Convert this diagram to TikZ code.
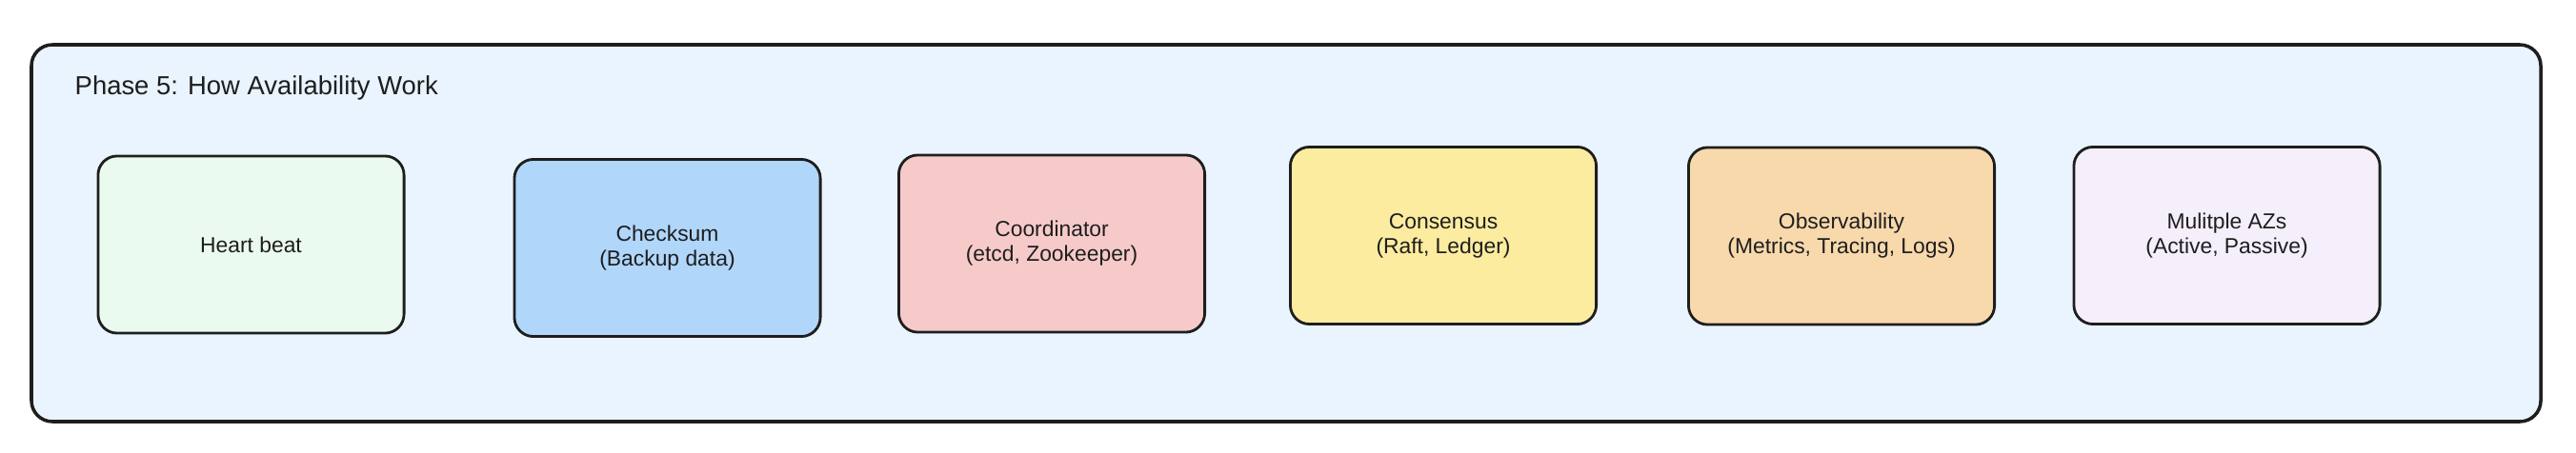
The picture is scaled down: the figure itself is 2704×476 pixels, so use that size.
\documentclass[tikz,border=0pt]{standalone}
\usepackage{fontspec}
\setmainfont{Liberation Sans}
\definecolor{ink}{HTML}{1E1E1E}
\definecolor{framebg}{HTML}{EAF4FE}
\definecolor{cgreen}{HTML}{EBFAEE}
\definecolor{cblue}{HTML}{B0D6FA}
\definecolor{cred}{HTML}{F7CACA}
\definecolor{cyellow}{HTML}{FCEC9F}
\definecolor{corange}{HTML}{F8D9AC}
\definecolor{cviolet}{HTML}{F5EEFB}
\begin{document}
\begin{tikzpicture}[x=0.01cm,y=-0.01cm,
  card/.style={draw=ink, line width=0.8pt, rounded corners=0.2cm,
    minimum width=3.21cm, minimum height=1.86cm, inner sep=0pt,
    align=center, text=ink, font=\fontsize{6.5}{7.4}\selectfont},
  framebox/.style={draw=ink, line width=1.0pt, rounded corners=0.22cm, fill=framebg},
  titletext/.style={text=ink, font=\fontsize{7.8}{9}\selectfont, inner sep=0pt}
]
\useasboundingbox (0,0) rectangle (2704,476);
\draw[framebox] (33,47) rectangle (2667,443);
\node[titletext, anchor=base west] (title) at (78,100) {Phase 5: How Availability Work};
\node[card, fill=cgreen]  (hb)  at (263.5,257)   {Heart beat};
\node[card, fill=cblue]   (cs)  at (700.5,260.5) {Checksum\\(Backup data)};
\node[card, fill=cred]    (co)  at (1104,256)    {Coordinator\\(etcd, Zookeeper)};
\node[card, fill=cyellow] (cn)  at (1515,247.5)  {Consensus\\(Raft, Ledger)};
\node[card, fill=corange] (ob)  at (1933,248)    {Observability\\(Metrics, Tracing, Logs)};
\node[card, fill=cviolet] (az)  at (2337.5,247.5){Mulitple AZs\\(Active, Passive)};
\end{tikzpicture}
\end{document}
